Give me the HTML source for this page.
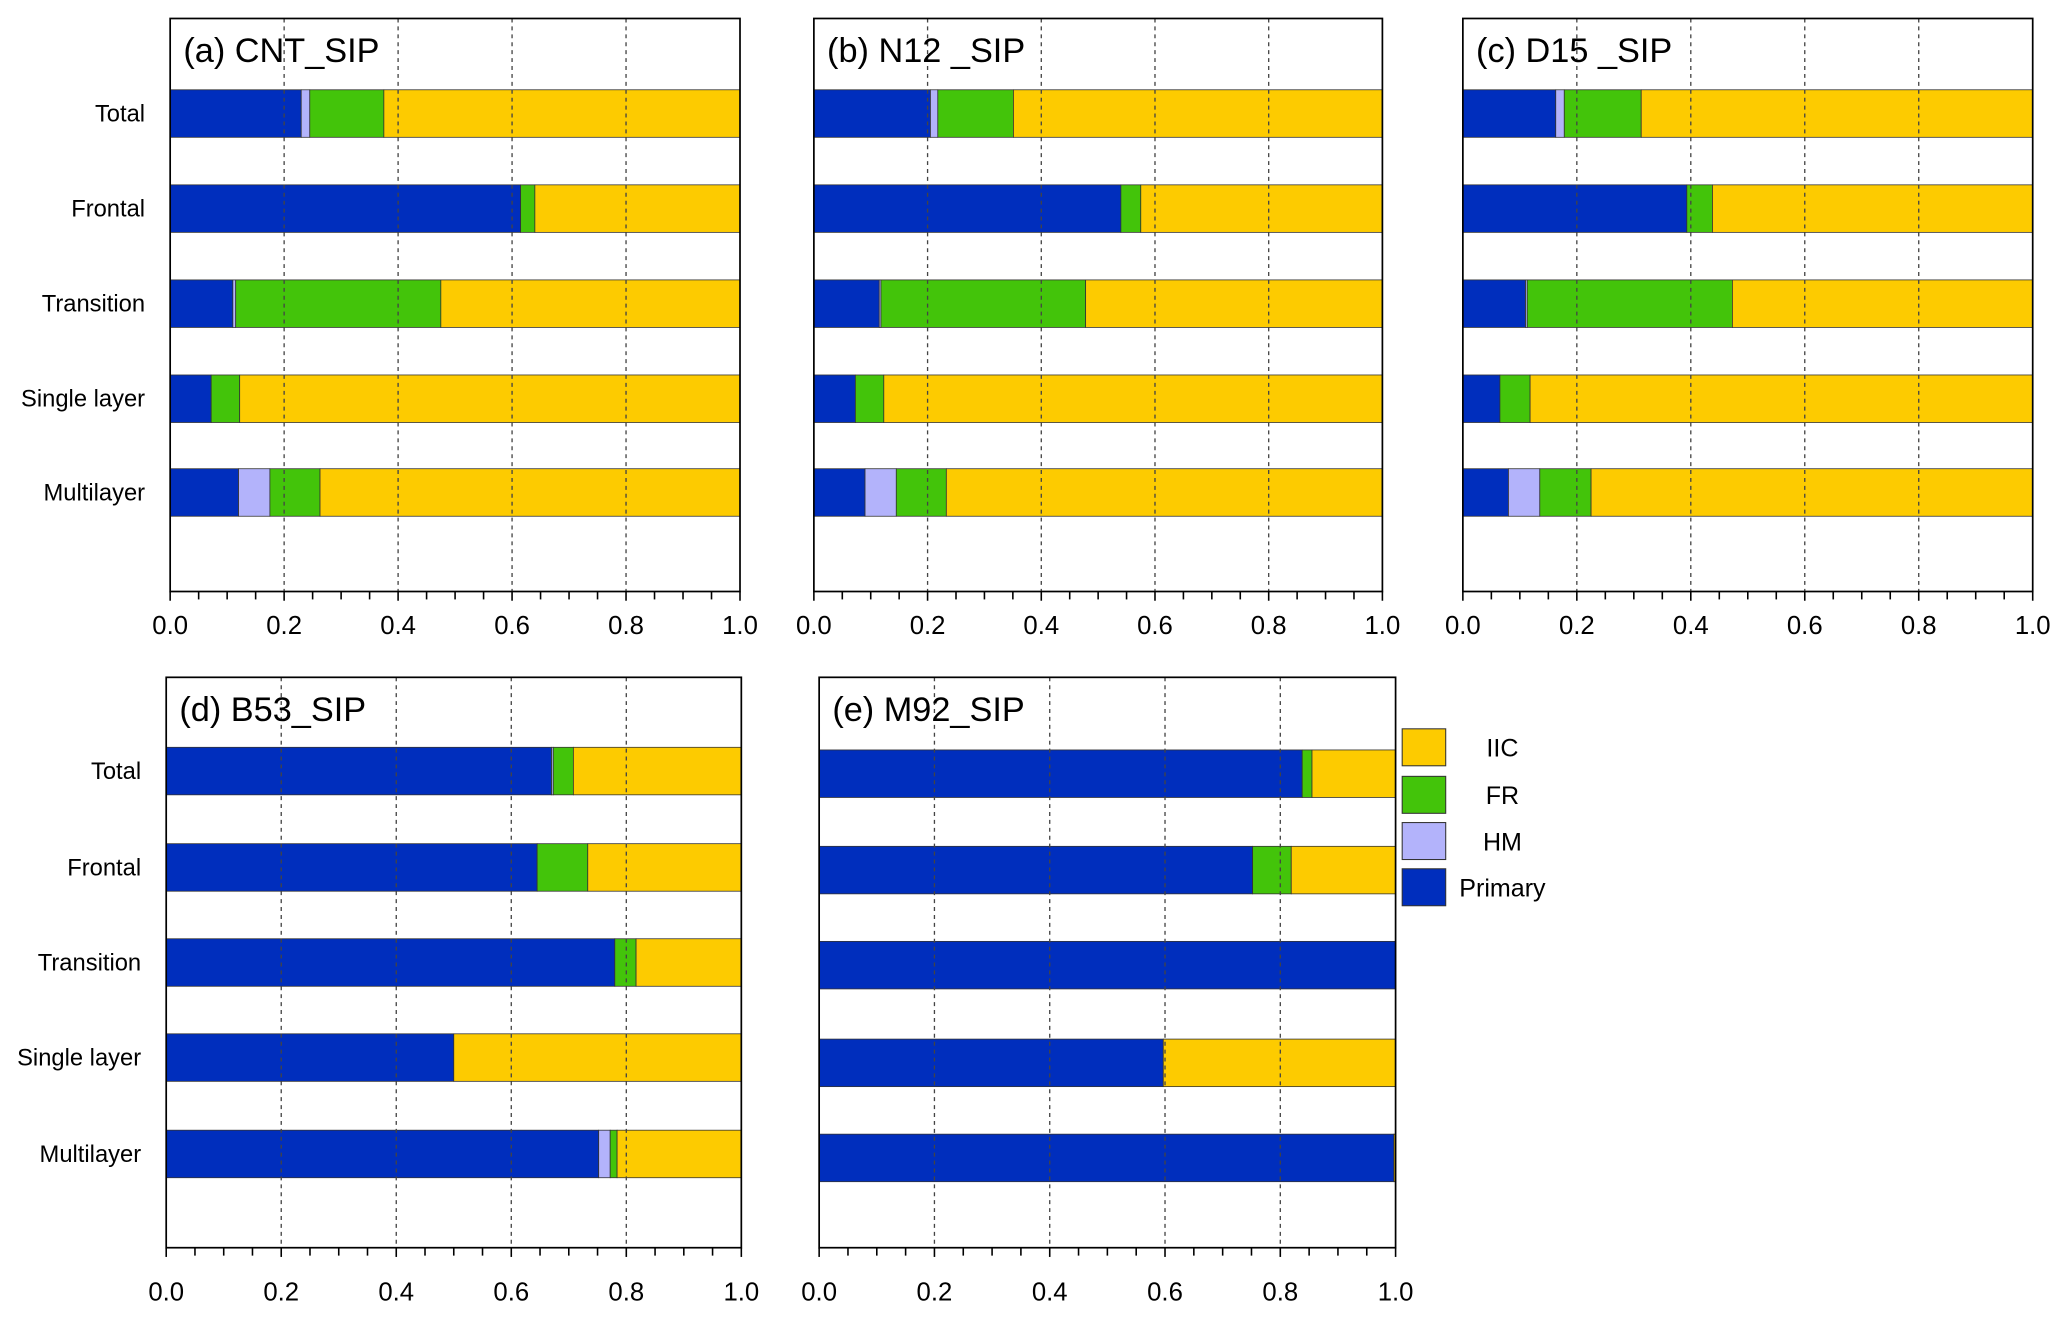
<!DOCTYPE html>
<html><head><meta charset="utf-8"><style>
html,body{margin:0;padding:0;background:#fff;}
svg{display:block;font-family:"Liberation Sans",Arial,sans-serif;}
</style></head><body>
<svg id="fig" width="2067" height="1319" viewBox="0 0 1567 999" preserveAspectRatio="none" xmlns="http://www.w3.org/2000/svg"></svg>
<script>
const categories = ["Total","Frontal","Transition","Single layer","Multilayer"];
const panelTitles = ["(a) CNT_SIP","(b) N12 _SIP","(c) D15 _SIP","(d) B53_SIP","(e) M92_SIP"];
const primaryA = [0.23,0.615,0.11,0.072,0.12];
const hmA      = [0.015,0,0.005,0,0.055];
const frA      = [0.13,0.025,0.36,0.05,0.088];
const primaryB = [0.205,0.54,0.115,0.073,0.09];
const hmB      = [0.013,0,0.003,0,0.055];
const frB      = [0.133,0.035,0.36,0.05,0.088];
const primaryC = [0.163,0.393,0.11,0.065,0.08];
const hmC      = [0.015,0,0.003,0,0.055];
const frC      = [0.135,0.045,0.36,0.053,0.09];
const primaryD = [0.67,0.645,0.78,0.5,0.752];
const hmD      = [0.003,0,0,0,0.02];
const frD      = [0.035,0.088,0.037,0,0.012];
const primaryE = [0.838,0.752,1.0,0.597,0.997];
const hmE      = [0,0,0,0,0];
const frE      = [0.017,0.067,0,0,0];
const xTicks = ["0.0","0.2","0.4","0.6","0.8","1.0"];
const legendLabels = ["IIC","FR","HM","Primary"];

const COL={P:"#002ebd",HM:"#b3b3fb",FR:"#43c40a",IIC:"#fdcb00"};
const svg=document.getElementById('fig');
const NS="http://www.w3.org/2000/svg";
function mk(tag,attrs,parent){const e=document.createElementNS(NS,tag);for(const k in attrs)e.setAttribute(k,attrs[k]);(parent||svg).appendChild(e);return e;}

const panels=[
 {x0:129,x1:561,y0:14,y1:448,bars:[68,140,212,284,355],lab:[173,473],P:primaryA,H:hmA,F:frA,showY:true},
 {x0:617,x1:1048,y0:14,y1:448,bars:[68,140,212,284,355],lab:[173,473],P:primaryB,H:hmB,F:frB,showY:false},
 {x0:1109,x1:1541,y0:14,y1:448,bars:[68,140,212,284,355],lab:[173,473],P:primaryC,H:hmC,F:frC,showY:false},
 {x0:126,x1:562,y0:513,y1:945,bars:[566,639,711,783,856],lab:[173,978],P:primaryD,H:hmD,F:frD,showY:true},
 {x0:621,x1:1058,y0:513,y1:945,bars:[568,641,713,787,859],lab:[173,978],P:primaryE,H:hmE,F:frE,showY:false}
];
const BH=36;
panels.forEach((p,pi)=>{
  const g=mk('g',{});
  
  
  const xs=v=>p.x0+v*(p.x1-p.x0);
  mk('rect',{x:p.x0,y:p.y0,width:p.x1-p.x0,height:p.y1-p.y0,fill:'#fff'},g);
  categories.forEach((c,i)=>{
    const y=p.bars[i];
    const segs=[['P',p.P[i]],['HM',p.H[i]],['FR',p.F[i]],['IIC',Math.max(0,1-p.P[i]-p.H[i]-p.F[i])]];
    let acc=0;
    segs.forEach(([k,v])=>{
      if(v>0){
        const r=mk('rect',{x:xs(acc),y:y,width:xs(acc+v)-xs(acc),height:BH,fill:COL[k],stroke:'#333','stroke-width':0.6},g);
        
        
      }
      acc+=v;
    });
    if(p.showY){
      const t=mk('text',{x:p.x0-19,y:y+BH/2+6,'text-anchor':'end','font-size':18},g);
      t.textContent=c;
      
      
    }
  });
  [0.2,0.4,0.6,0.8].forEach(v=>{
    mk('line',{x1:xs(v),x2:xs(v),y1:p.y0,y2:p.y1,stroke:'#444','stroke-width':1,'stroke-dasharray':'3,3'},g);
  });
  mk('rect',{x:p.x0,y:p.y0,width:p.x1-p.x0,height:p.y1-p.y0,fill:'none',stroke:'#000','stroke-width':1.3},g);
  for(let k=0;k<=20;k++){
    const v=k/20;
    mk('line',{x1:xs(v),x2:xs(v),y1:p.y1,y2:p.y1+(k%4==0?7:6),stroke:'#000','stroke-width':1.2},g);
  }
  xTicks.forEach((lab,i)=>{
    const t=mk('text',{x:xs(i*0.2),y:p.lab[1]+7,'text-anchor':'middle','font-size':19.5},g);
    t.textContent=lab;
    
    
  });
  const tt=mk('text',{x:p.x0+10,y:p.y0+33,'font-size':26},g);
  tt.textContent=panelTitles[pi];
  
  
});
const legCols=[COL.IIC,COL.FR,COL.HM,COL.P];
const legY=[552,588,623,658];
legendLabels.forEach((l,i)=>{
  const r=mk('rect',{x:1063,y:legY[i],width:33,height:28,fill:legCols[i],stroke:'#333','stroke-width':0.8});
  
  
  const t=mk('text',{x:1139,y:legY[i]+21,'text-anchor':'middle','font-size':19});
  t.textContent=l;
  
  
});
</script>
</body></html>
